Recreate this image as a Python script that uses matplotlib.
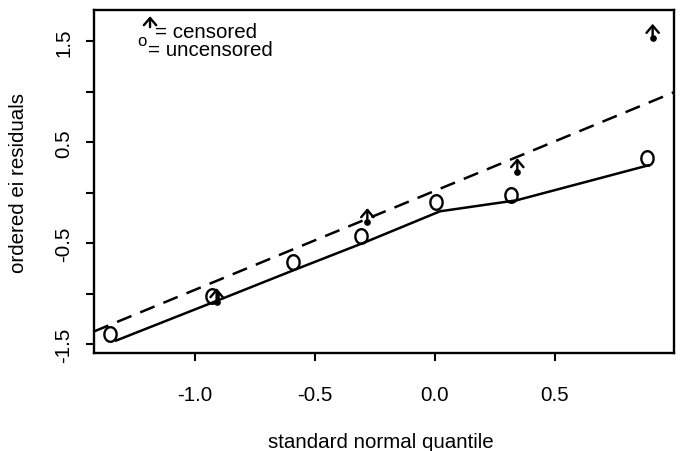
import numpy as np
import matplotlib
matplotlib.use("Agg")
import matplotlib.pyplot as plt
from matplotlib.path import Path

plt.rcParams['font.family'] = ['Liberation Sans', 'DejaVu Sans']
plt.rcParams['font.size'] = 14.8

# uncensored points (plotted as "o")
unc_x = [-1.354, -0.929, -0.592, -0.310, 0.005, 0.317, 0.883]
unc_y = [-1.398, -1.022, -0.685, -0.431, -0.094, -0.022, 0.345]

# censored points (dot with upward arrow)
cen_x = [-0.910, -0.282, 0.343, 0.907]
cen_y = [-1.084, -0.292, 0.203, 1.533]
arrow_len = 0.14

# solid fitted line
fit_x = [-1.329, -0.910, -0.590, -0.292, 0.021, 0.340, 0.889]
fit_y = [-1.463, -1.070, -0.767, -0.490, -0.183, -0.074, 0.272]

# dashed reference line
ref_a, ref_b = 0.02, 0.98

xticks = [-1.0, -0.5, 0.0, 0.5]
yticks = [-1.5, -1.0, -0.5, 0.0, 0.5, 1.0, 1.5]
ytick_labels = ['-1.5', '', '-0.5', '', '0.5', '', '1.5']

fig = plt.figure(figsize=(6.83, 4.52), dpi=100)
ax = fig.add_axes([94 / 683, 98 / 452, 580 / 683, 343 / 452])
ax.set_xlim(-1.421, 0.996)
ax.set_ylim(-1.586, 1.81)

# ellipse marker that looks like R's letter "o"
t = np.linspace(0, 2 * np.pi, 60)
oval = Path(np.column_stack([0.42 * np.cos(t), 0.5 * np.sin(t)]))

arrow_style = '->,head_length=0.35,head_width=0.3'

ax.plot(fit_x, fit_y, color='black', lw=1.8)
xl = np.array(ax.get_xlim())
ax.plot(xl, ref_a + ref_b * xl, color='black', lw=1.8, dashes=(6.2, 3.8))

ax.plot(unc_x, unc_y, linestyle='none', marker=oval, markersize=10.5,
        markerfacecolor='none', markeredgecolor='black', markeredgewidth=1.7)

ax.plot(cen_x, cen_y, linestyle='none', marker='o', markersize=3.8, color='black')
for x, y in zip(cen_x, cen_y):
    ax.annotate('', xy=(x, y + arrow_len), xytext=(x, y),
                arrowprops=dict(arrowstyle=arrow_style,
                                lw=1.7, color='black', shrinkA=0, shrinkB=0))

# legend drawn as text, like the original
ax.annotate('', xy=(0.0966, 0.982), xytext=(0.0966, 0.950), xycoords='axes fraction',
            arrowprops=dict(arrowstyle=arrow_style,
                            lw=1.7, color='black', shrinkA=0, shrinkB=0))
ax.text(0.105, 0.921, '= censored', transform=ax.transAxes, va='baseline', ha='left')
ax.text(0.082, 0.912, 'o', transform=ax.transAxes, va='center', ha='center', fontsize=12)
ax.text(0.093, 0.869, '= uncensored', transform=ax.transAxes, va='baseline', ha='left')

ax.set_xticks(xticks)
ax.set_xticklabels(['%.1f' % v for v in xticks])
ax.set_yticks(yticks)
ax.set_yticklabels(ytick_labels, rotation=90, va='center')
ax.tick_params(axis='x', length=6, width=1.5, pad=17)
ax.tick_params(axis='y', length=6, width=1.5, pad=9)
for s in ax.spines.values():
    s.set_linewidth(1.7)

fig.text(19 / 683, 1 - 183 / 452, 'ordered ei residuals', rotation=90,
         ha='center', va='center')
fig.text(381 / 683, 1 - 443 / 452, 'standard normal quantile', ha='center', va='center')

fig.savefig('out.png', dpi=100)
